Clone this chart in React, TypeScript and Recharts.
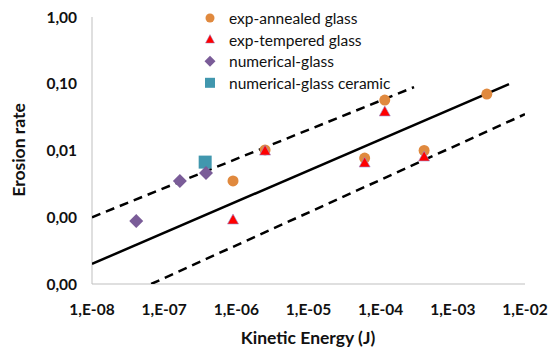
import { ScatterChart, Scatter, XAxis, YAxis } from "recharts"

// exp-annealed glass
const annealedEnergy = [9e-7, 2.5e-6, 6e-5, 1.14e-4, 4e-4, 2.96e-3]
const annealedRate = [0.0035, 0.0102, 0.0077, 0.057, 0.0100, 0.07]

// exp-tempered glass
const temperedEnergy = [9e-7, 2.5e-6, 6e-5, 1.14e-4, 4e-4]
const temperedRate = [0.00091, 0.0098, 0.0065, 0.0378, 0.008]

// numerical-glass
const numGlassEnergy = [4.1e-8, 1.65e-7, 3.8e-7]
const numGlassRate = [0.00088, 0.0035, 0.0046]

// numerical-glass ceramic
const numCeramicEnergy = [3.7e-7]
const numCeramicRate = [0.0067]

// fit line and upper / lower bounds
const fitEnergy = [1e-8, 6e-3]
const fitRate = [0.0002, 0.099]
const upperEnergy = [1e-8, 2.9e-4]
const upperRate = [0.001, 0.089]
const lowerEnergy = [6.6e-8, 1e-2]
const lowerRate = [0.0001, 0.035]

const xTicks = [1e-8, 1e-7, 1e-6, 1e-5, 1e-4, 1e-3, 1e-2]
const yTicks = [0.0001, 0.001, 0.01, 0.1, 1]

const legendLabels = [
  "exp-annealed glass",
  "exp-tempered glass",
  "numerical-glass",
  "numerical-glass ceramic",
]

const toPoints = (xs: number[], ys: number[]) =>
  xs.map((x, i) => ({ x, y: ys[i] }))

const FONT = "Lato, 'Open Sans', sans-serif"
const ORANGE = "#E0893E"
const RED = "#FF0000"
const PURPLE = "#7A5C98"
const TEAL = "#4197AE"

const Circle = ({ cx, cy }: any) => <circle cx={cx} cy={cy} r={5.5} fill={ORANGE} />
const Triangle = ({ cx, cy }: any) => (
  <polygon
    points={`${cx},${cy - 6} ${cx + 5.5},${cy + 4} ${cx - 5.5},${cy + 4}`}
    fill={RED}
    stroke="#9a8fd0"
    strokeWidth={0.6}
  />
)
const Diamond = ({ cx, cy }: any) => (
  <polygon
    points={`${cx},${cy - 7} ${cx + 7},${cy} ${cx},${cy + 7} ${cx - 7},${cy}`}
    fill={PURPLE}
  />
)
const Square = ({ cx, cy }: any) => (
  <rect x={cx - 6.5} y={cy - 6.5} width={13} height={13} fill={TEAL} />
)
const NoDot = () => <g />

const legendMarkers = [
  <circle cx={0} cy={0} r={4.5} fill={ORANGE} />,
  <polygon points="0,-5 4.5,3.5 -4.5,3.5" fill={RED} stroke="#9a8fd0" strokeWidth={0.5} />,
  <polygon points="0,-5.5 5.5,0 0,5.5 -5.5,0" fill={PURPLE} />,
  <rect x={-5} y={-5} width={10} height={10} fill={TEAL} />,
]

const fmtX = (v: number) => {
  const e = Math.round(Math.log10(v))
  return `1,E-${String(-e).padStart(2, "0")}`
}
const fmtY = (v: number) => v.toFixed(2).replace(".", ",")

const lineStyle = { stroke: "#000", strokeWidth: 2.5 }
const dashStyle = { ...lineStyle, strokeDasharray: "9 6" }

const tickStyle = { fontSize: 15.5, fontWeight: 700, fill: "#111", fontFamily: FONT }

export default function App() {
  return (
    <div style={{ position: "absolute", left: 0, top: 0, background: "#fff" }}>
      <ScatterChart
        width={554}
        height={351}
        margin={{ top: 17, right: 29, bottom: 0, left: 0 }}
      >
        <XAxis
          type="number"
          dataKey="x"
          scale="log"
          domain={[1e-8, 1e-2]}
          ticks={xTicks}
          tickFormatter={fmtX}
          allowDataOverflow
          height={67}
          axisLine={{ stroke: "#BFBFBF", strokeWidth: 1 }}
          tickLine={false}
          tickMargin={14}
          tick={tickStyle}
          label={{
            content: () => (
              <text
                x={308}
                y={337}
                textAnchor="middle"
                dominantBaseline="central"
                fontSize={17.5}
                fontWeight={700}
                fill="#111"
                fontFamily={FONT}
              >
                Kinetic Energy (J)
              </text>
            ),
          }}
        />
        <YAxis
          type="number"
          dataKey="y"
          scale="log"
          domain={[1e-4, 1]}
          ticks={yTicks}
          tickFormatter={fmtY}
          allowDataOverflow
          width={92}
          axisLine={{ stroke: "#BFBFBF", strokeWidth: 1 }}
          tickLine={false}
          tickMargin={9}
          tick={tickStyle}
          label={{
            content: () => (
              <text
                x={18}
                y={150}
                transform="rotate(-90 18 150)"
                textAnchor="middle"
                dominantBaseline="central"
                fontSize={17.5}
                fontWeight={700}
                fill="#111"
                fontFamily={FONT}
              >
                Erosion rate
              </text>
            ),
          }}
        />
        <Scatter data={toPoints(upperEnergy, upperRate)} line={dashStyle} shape={NoDot} isAnimationActive={false} />
        <Scatter data={toPoints(fitEnergy, fitRate)} line={lineStyle} shape={NoDot} isAnimationActive={false} />
        <Scatter data={toPoints(lowerEnergy, lowerRate)} line={dashStyle} shape={NoDot} isAnimationActive={false} />
        <Scatter data={toPoints(annealedEnergy, annealedRate)} shape={Circle} isAnimationActive={false} />
        <Scatter data={toPoints(temperedEnergy, temperedRate)} shape={Triangle} isAnimationActive={false} />
        <Scatter data={toPoints(numCeramicEnergy, numCeramicRate)} shape={Square} isAnimationActive={false} />
        <Scatter data={toPoints(numGlassEnergy, numGlassRate)} shape={Diamond} isAnimationActive={false} />
      </ScatterChart>
      <svg
        width={220}
        height={90}
        style={{ position: "absolute", left: 200, top: 6 }}
      >
        {legendLabels.map((label, i) => (
          <g key={label} transform={`translate(10, ${12 + i * 21.6})`}>
            {legendMarkers[i]}
            <text
              x={19}
              y={0}
              dominantBaseline="central"
              fontSize={15.5}
              fill="#111"
              fontFamily={FONT}
            >
              {label}
            </text>
          </g>
        ))}
      </svg>
    </div>
  )
}
